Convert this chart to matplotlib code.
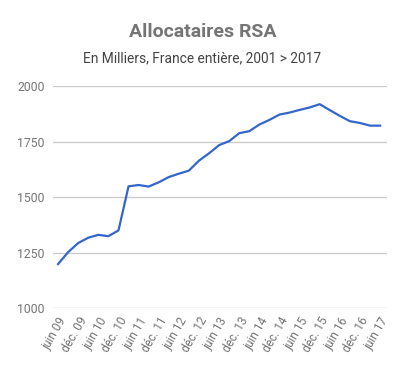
import numpy as np
import matplotlib
matplotlib.use("Agg")
import matplotlib.pyplot as plt

plt.rcParams['font.family'] = ['Roboto', 'DejaVu Sans']

# quarterly values, juin 09 -> juin 17 (milliers)
values = [1198, 1252, 1293, 1317, 1330, 1324, 1350, 1549, 1555, 1548,
          1567, 1591, 1606, 1620, 1665, 1698, 1735, 1753, 1789, 1798,
          1828, 1849, 1873, 1882, 1894, 1905, 1920, 1893, 1867, 1843,
          1835, 1823, 1823]
tick_labels = ["juin 09", "déc. 09", "juin 10", "déc. 10", "juin 11", "déc. 11",
               "juin 12", "déc. 12", "juin 13", "déc. 13", "juin 14", "déc. 14",
               "juin 15", "déc. 15", "juin 16", "déc. 16", "juin 17"]
yticks = [1000, 1250, 1500, 1750, 2000]

fig = plt.figure(figsize=(4.05, 3.71), dpi=100)
ax = fig.add_axes([0.131, 0.170, 0.825, 0.597])

x = np.arange(len(values))
ax.plot(x, values, color='#3366cc', lw=1.6, solid_joinstyle='round')

ax.set_ylim(1000, 2000)
ax.set_xlim(-0.5, 32.7)
ax.set_yticks(yticks)
ax.set_yticklabels([str(v) for v in yticks], color='#757575', fontsize=8.8)
ax.set_xticks(x[::2])
ax.set_xticklabels(tick_labels, rotation=60, ha='right', rotation_mode='anchor',
                   color='#757575', fontsize=8.6)
ax.tick_params(axis='y', length=0, pad=6)
ax.tick_params(axis='x', length=0, pad=5)
ax.grid(axis='y', color='#cccccc', lw=1)
ax.set_axisbelow(True)
for s in ax.spines.values():
    s.set_visible(False)

fig.text(0.5, 0.913, "Allocataires RSA", ha='center', va='center',
         fontsize=14, fontweight='bold', color='#757575')
fig.text(0.5, 0.843, "En Milliers, France entière, 2001 > 2017", ha='center',
         va='center', fontsize=9.9, color='#444444')

fig.savefig("out.png", dpi=100)
